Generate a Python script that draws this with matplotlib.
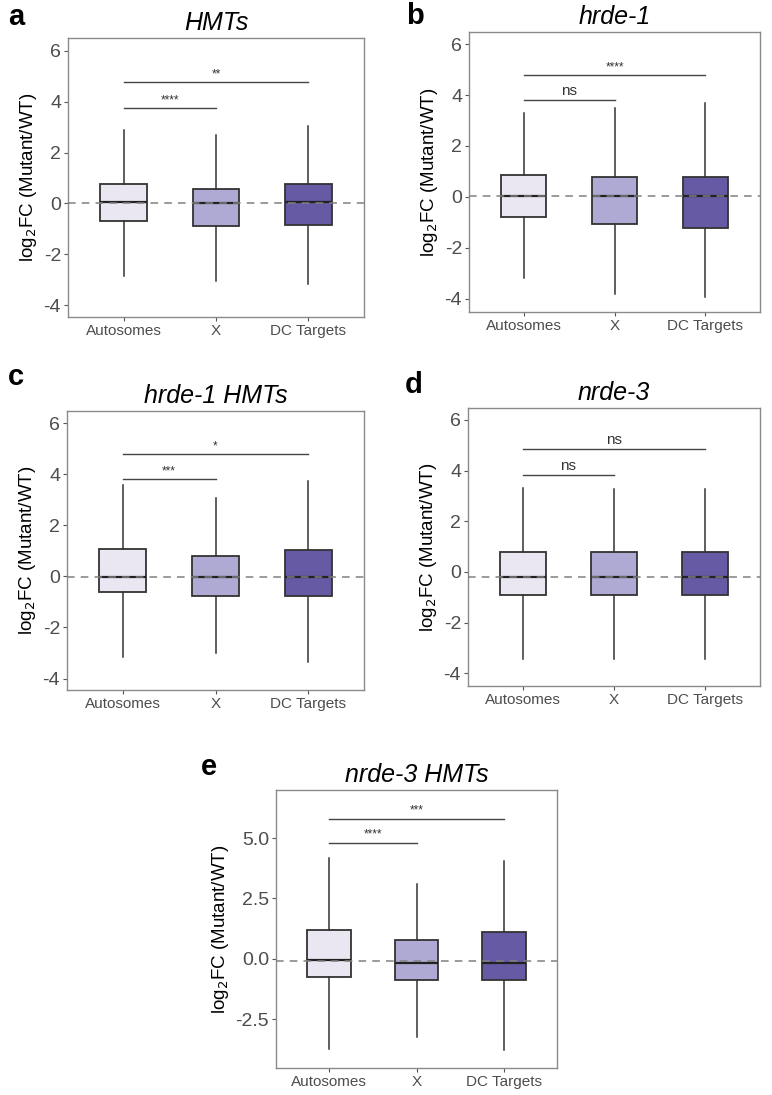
import numpy as np
import matplotlib
matplotlib.use("Agg")
import matplotlib.pyplot as plt

plt.rcParams['font.family'] = ['Liberation Sans', 'DejaVu Sans']

categories = ["Autosomes", "X", "DC Targets"]
panel_letters = ["a", "b", "c", "d", "e"]
panel_titles = ["HMTs", "hrde-1", "hrde-1 HMTs", "nrde-3", "nrde-3 HMTs"]

# one row per panel, columns = Autosomes, X, DC Targets
whisker_low = [[-2.85, -3.05, -3.17],
               [-3.2, -3.83, -3.93],
               [-3.15, -2.99, -3.37],
               [-3.45, -3.45, -3.45],
               [-3.74, -3.26, -3.8]]
quart_low = [[-0.7, -0.9, -0.83],
             [-0.8, -1.08, -1.23],
             [-0.63, -0.75, -0.75],
             [-0.92, -0.92, -0.92],
             [-0.77, -0.87, -0.87]]
medians = [[0.05, 0.03, 0.05],
           [0.05, 0.05, 0.05],
           [-0.02, -0.03, -0.02],
           [-0.19, -0.19, -0.19],
           [-0.07, -0.17, -0.17]]
quart_high = [[0.75, 0.55, 0.75],
              [0.85, 0.78, 0.78],
              [1.08, 0.79, 1.05],
              [0.77, 0.77, 0.77],
              [1.2, 0.76, 1.1]]
whisker_high = [[2.88, 2.7, 3.06],
                [3.28, 3.5, 3.68],
                [3.6, 3.07, 3.72],
                [3.3, 3.28, 3.28],
                [4.17, 3.1, 4.06]]
ref_line = [0.0, 0.05, -0.03, -0.19, -0.1]

# significance brackets: Autosomes vs X, Autosomes vs DC Targets
sig_short = [("****", 3.75), ("ns", 3.8), ("***", 3.8), ("ns", 3.84), ("****", 4.82)]
sig_long = [("**", 4.77), ("****", 4.78), ("*", 4.79), ("ns", 4.85), ("***", 5.81)]

ylims = [(-4.47, 6.51), (-4.53, 6.48), (-4.45, 6.48), (-4.5, 6.47), (-4.53, 7.0)]
yticks = [[-4, -2, 0, 2, 4, 6]] * 4 + [[-2.5, 0.0, 2.5, 5.0]]

box_colors = ["#EAE7F3", "#AEAAD3", "#675AA5"]

W, H = 772, 1095
# axes frames in pixels: left, right, top, bottom
frames = [(68, 364, 38, 317), (469, 760, 32, 312), (67, 364, 411, 690),
          (468, 760, 408, 686), (276, 557, 790, 1068)]
letter_pos = [(8, 17), (406, 16), (8, 377), (405, 385), (201, 767)]

fig = plt.figure(figsize=(W / 100, H / 100), dpi=100)

for i in range(5):
    l, r, t, b = frames[i]
    ax = fig.add_axes([l / W, 1 - b / H, (r - l) / W, (b - t) / H])
    stats = []
    for j in range(3):
        stats.append(dict(whislo=whisker_low[i][j], q1=quart_low[i][j], med=medians[i][j],
                          q3=quart_high[i][j], whishi=whisker_high[i][j], fliers=[]))
    bp = ax.bxp(stats, positions=[1, 2, 3], widths=0.5, patch_artist=True, showcaps=False,
                boxprops=dict(edgecolor="#333333", linewidth=1.3),
                whiskerprops=dict(color="#333333", linewidth=1.1),
                medianprops=dict(color="#222222", linewidth=1.6))
    for patch, c in zip(bp["boxes"], box_colors):
        patch.set_facecolor(c)
    ax.axhline(ref_line[i], color="#808080", linestyle=(0, (5, 4)), linewidth=1.1, zorder=5)

    lab, y = sig_short[i]
    ax.plot([1, 2], [y, y], color="#444444", linewidth=1)
    fs = 11 if lab == "ns" else 8.5
    ax.text(1.5, y + 0.08, lab, ha="center", va="bottom", fontsize=fs, color="#333333")
    lab, y = sig_long[i]
    ax.plot([1, 3], [y, y], color="#444444", linewidth=1)
    fs = 11 if lab == "ns" else 8.5
    ax.text(2, y + 0.08, lab, ha="center", va="bottom", fontsize=fs, color="#333333")

    ax.set_xlim(0.4, 3.6)
    ax.set_ylim(*ylims[i])
    ax.set_yticks(yticks[i])
    if i == 4:
        ax.set_yticklabels(["%.1f" % v for v in yticks[i]])
    else:
        ax.set_yticklabels(["%d" % v for v in yticks[i]])
    ax.set_xticks([1, 2, 3])
    ax.set_xticklabels(categories, fontsize=11, color="#4D4D4D")
    ax.tick_params(axis="y", labelsize=14, labelcolor="#4D4D4D", color="#555555", length=3, pad=2)
    ax.tick_params(axis="x", color="#555555", length=3, pad=2)
    for sp in ax.spines.values():
        sp.set_color("#8A8A8A")
        sp.set_linewidth(1)
    ax.set_ylabel("log$_2$FC (Mutant/WT)", fontsize=13.5, color="black", labelpad=3)
    ax.set_title(panel_titles[i], fontsize=18, style="italic", pad=6)
    lx, ly = letter_pos[i]
    fig.text(lx / W, 1 - ly / H, panel_letters[i],
             fontsize=21, fontweight="bold", va="center", ha="left")

fig.savefig("out.png", dpi=100)
